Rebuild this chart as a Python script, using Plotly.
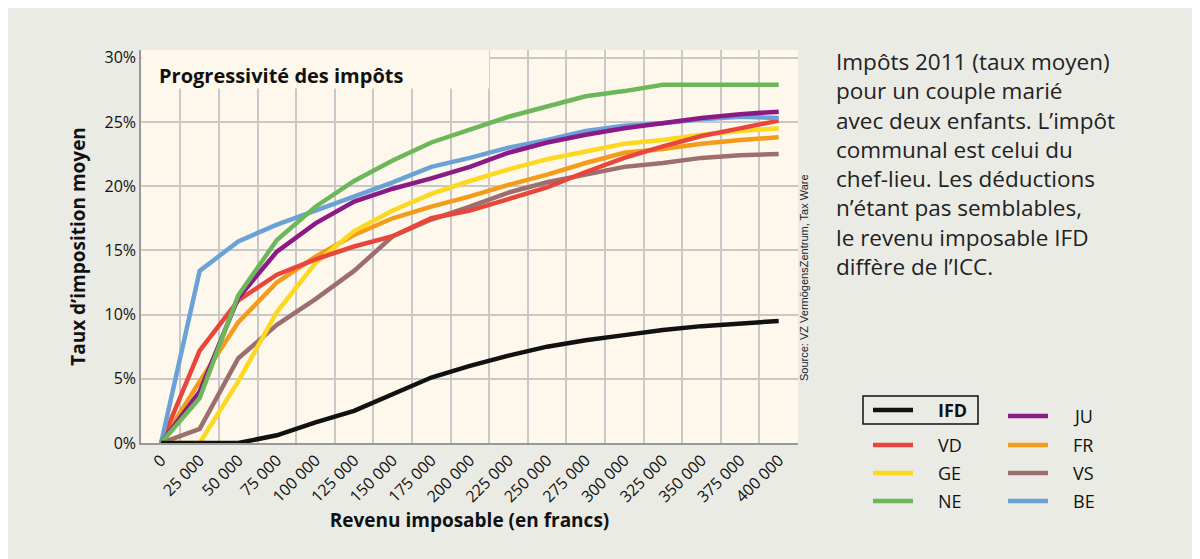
import plotly.graph_objects as go

revenus = ["0", "25 000", "50 000", "75 000", "100 000", "125 000", "150 000", "175 000", "200 000",
           "225 000", "250 000", "275 000", "300 000", "325 000", "350 000", "375 000", "400 000"]

ifd = [0, 0, 0, 0.6, 1.6, 2.5, 3.8, 5.1, 6.0, 6.8, 7.5, 8.0, 8.4, 8.8, 9.1, 9.3, 9.5]
vd = [0, 7.2, 11.1, 13.1, 14.3, 15.3, 16.1, 17.5, 18.1, 19.0, 19.9, 21.1, 22.2, 23.1, 23.9, 24.5, 25.1]
ge = [0, 0, 4.8, 10.2, 14.0, 16.5, 18.1, 19.4, 20.4, 21.3, 22.1, 22.7, 23.3, 23.6, 24.0, 24.3, 24.5]
ne = [0, 3.5, 11.5, 15.8, 18.4, 20.4, 22.0, 23.4, 24.4, 25.4, 26.2, 27.0, 27.4, 27.9, 27.9, 27.9, 27.9]
ju = [0, 4.0, 11.3, 14.9, 17.1, 18.8, 19.8, 20.6, 21.5, 22.6, 23.4, 24.0, 24.5, 24.9, 25.3, 25.6, 25.8]
fr = [0, 4.8, 9.4, 12.5, 14.5, 16.2, 17.5, 18.4, 19.2, 20.1, 20.9, 21.8, 22.6, 22.9, 23.3, 23.6, 23.8]
vs = [0, 1.1, 6.6, 9.2, 11.2, 13.4, 16.1, 17.4, 18.4, 19.5, 20.3, 20.9, 21.5, 21.8, 22.2, 22.4, 22.5]
be = [0, 13.4, 15.7, 17.0, 18.1, 19.2, 20.3, 21.5, 22.2, 23.0, 23.6, 24.3, 24.7, 24.9, 25.2, 25.4, 25.3]

series = [
    ("VS", vs, "#9c6f6e"), ("FR", fr, "#f39c1b"), ("GE", ge, "#fcd821"), ("VD", vd, "#e8463c"),
    ("BE", be, "#6aa2d8"), ("JU", ju, "#8b1a86"), ("NE", ne, "#6cb75a"), ("IFD", ifd, "#111111"),
]
colors = {n: c for n, _, c in series}

fig = go.Figure()
xs = list(range(len(revenus)))
for name, vals, col in series:
    fig.add_trace(go.Scatter(x=xs, y=vals, mode="lines", name=name,
                             line=dict(color=col, width=4.5), showlegend=False))

# cream band behind the title, hides the gridlines
fig.add_shape(type="rect", xref="x", yref="y", x0=-0.5, x1=8.5, y0=27.6, y1=30.6,
              fillcolor="#fdf8eb", line_width=0, layer="between")

fig.add_annotation(text="<b>Progressivité des impôts</b>", xref="paper", yref="paper",
                   x=0.025, y=0.975, xanchor="left", yanchor="top", showarrow=False,
                   font=dict(size=20, family="Open Sans", color="#111"))


def px2x(px):
    return (px - 133) / 657


def py2y(py):
    return (435 - py) / 393


legend_cols = [(865, 928, ["IFD", "VD", "GE", "NE"]), (1000, 1063, ["JU", "FR", "VS", "BE"])]
rows = [402, 437, 465, 493]
for lx, tx, names in legend_cols:
    for name, py in zip(names, rows):
        if lx == 1000 and name == "JU":
            py = 408
        fig.add_shape(type="line", xref="paper", yref="paper", x0=px2x(lx), x1=px2x(lx + 40),
                      y0=py2y(py), y1=py2y(py), line=dict(color=colors[name], width=4.5))
        txt = "<b>IFD</b>" if name == "IFD" else name
        fig.add_annotation(text=txt, xref="paper", yref="paper", x=px2x(tx), y=py2y(py),
                           xanchor="left", yanchor="middle", showarrow=False,
                           font=dict(size=18, family="Open Sans", color="#111"))
fig.add_shape(type="rect", xref="paper", yref="paper", x0=px2x(855), x1=px2x(970),
              y0=py2y(416), y1=py2y(388), line=dict(color="#111", width=1.5))

fig.add_annotation(
    text="Impôts 2011 (taux moyen)<br>pour un couple marié<br>avec deux enfants. L’impôt<br>"
         "communal est celui du<br>chef-lieu. Les déductions<br>n’étant pas semblables,<br>"
         "le revenu imposable IFD<br>diffère de l’ICC.",
    xref="paper", yref="paper", x=px2x(826), y=py2y(36), xanchor="left", yanchor="top",
    align="left", showarrow=False, font=dict(size=22.5, family="Open Sans", color="#222"))

fig.add_annotation(text="Source: VZ VermögensZentrum, Tax Ware", textangle=-90,
                   xref="paper", yref="paper", x=px2x(804), y=py2y(270),
                   showarrow=False, font=dict(size=11, family="Liberation Sans", color="#222"))

fig.update_layout(
    width=1200, height=559,
    margin=dict(l=133, r=410, t=42, b=124),
    paper_bgcolor="#ebebe5", plot_bgcolor="#fdf8eb",
    font=dict(family="Open Sans", color="#111"),
    xaxis=dict(range=[-0.52, 16.5], tickvals=xs, ticktext=revenus, tickangle=-45,
               showgrid=False, zeroline=False, ticks="", tickfont=dict(size=16, color="#111"),
               showline=True, linecolor="#999", linewidth=1.5,
               minor=dict(tick0=0.5, dtick=1, showgrid=True, gridcolor="#c8c8c8", gridwidth=1.5),
               title=dict(text="<b>Revenu imposable (en francs)</b>", font=dict(size=19), standoff=8)),
    yaxis=dict(range=[0, 30.6], tickvals=[0, 5, 10, 15, 20, 25, 30],
               ticktext=["0%", "5%", "10%", "15%", "20%", "25%", "30%"],
               gridcolor="#c8c8c8", gridwidth=1.5, zeroline=False, tickfont=dict(size=16, color="#111"),
               showline=True, linecolor="#999", linewidth=1.5, ticks="", ticklen=0,
               title=dict(text="<b>Taux d’imposition moyen</b>", font=dict(size=19), standoff=14)),
)

fig.write_html("out.html")
